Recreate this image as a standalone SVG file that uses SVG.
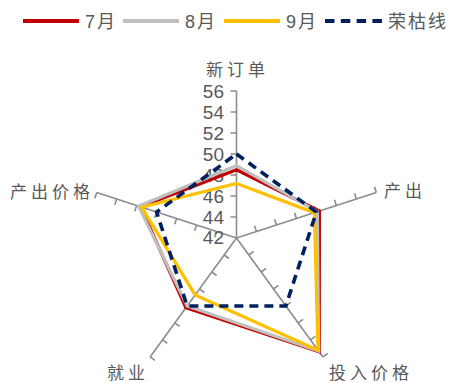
<svg xmlns="http://www.w3.org/2000/svg" xmlns:xlink="http://www.w3.org/1999/xlink" width="451" height="383" viewBox="0 0 451 383">
<style>
.ax{stroke:#8c8c8c;stroke-width:1.6;fill:none}
.num{font-family:"Liberation Sans",Arial,sans-serif;font-size:19px;fill:#595959;text-anchor:end}
.cat{font-family:"Noto Sans CJK SC","Liberation Sans",sans-serif;font-size:17px;fill:#595959;letter-spacing:4px}
.leg{font-family:"Liberation Sans","Noto Sans CJK SC",sans-serif;font-size:18px;fill:#595959;letter-spacing:2px}
.s{fill:none;stroke-width:3.2;stroke-linejoin:miter}
.red{stroke:#C00000}
.gray{stroke:#BFBFBF}
.yel{stroke:#FFC000}
.dash{stroke:#002060;stroke-width:3.6;stroke-dasharray:9 6}
</style>
<defs>
<g id="axis">
<path class="ax" d="M0 0V-147M0 -21h-6M0 -42h-6M0 -63h-6M0 -84h-6M0 -105h-6M0 -126h-6M0 -147h-6"/>
</g>
</defs>
<rect width="451" height="383" fill="#ffffff"/>
<g id="legend">
<line x1="23" y1="21" x2="79" y2="21" stroke="#C00000" stroke-width="4"/>
<text class="leg" x="85" y="28">7月</text>
<line x1="123" y1="21" x2="179" y2="21" stroke="#BFBFBF" stroke-width="4"/>
<text class="leg" x="185" y="28">8月</text>
<line x1="224" y1="21" x2="280" y2="21" stroke="#FFC000" stroke-width="4"/>
<text class="leg" x="286" y="28">9月</text>
<line x1="325" y1="21" x2="382" y2="21" stroke="#002060" stroke-width="4" stroke-dasharray="9.5 6.3"/>
<text class="leg" x="388" y="28">荣枯线</text>
</g>
<g id="axes" transform="translate(236.5 238)">
<use xlink:href="#axis"/>
<use xlink:href="#axis" transform="rotate(72)"/>
<use xlink:href="#axis" transform="rotate(144)"/>
<use xlink:href="#axis" transform="rotate(216)"/>
<use xlink:href="#axis" transform="rotate(288)"/>
</g>
<g id="scale">
<text class="num" x="224" y="98">56</text>
<text class="num" x="224" y="119">54</text>
<text class="num" x="224" y="140">52</text>
<text class="num" x="224" y="161">50</text>
<text class="num" x="224" y="182">48</text>
<text class="num" x="224" y="203">46</text>
<text class="num" x="224" y="224">44</text>
<text class="num" x="224" y="244">42</text>
</g>
<g id="node-xindingdan"><text class="cat" x="206" y="76">新订单</text></g>
<g id="node-chanchu"><text class="cat" x="384" y="197">产出</text></g>
<g id="node-tourujiage"><text class="cat" x="329" y="379">投入价格</text></g>
<g id="node-jiuye"><text class="cat" x="107" y="379">就业</text></g>
<g id="node-chanchujiage"><text class="cat" x="10" y="198">产出价格</text></g>
<g id="connectors">
<polygon class="s red" points="236.5,169.75 319.39,211.07 319.2,351.83 185.89,307.66 140.63,206.85"/>
<polygon class="s gray" points="236.5,165.55 317.39,211.72 318.58,350.98 187.13,305.96 138.64,206.2"/>
<polygon class="s yel" points="236.5,183.4 314.39,212.69 317.97,350.13 195.15,294.91 141.63,207.18"/>
<polygon class="s dash" points="236.5,154 316.39,212.04 285.87,305.96 187.13,305.96 156.61,212.04"/>
</g>
</svg>
